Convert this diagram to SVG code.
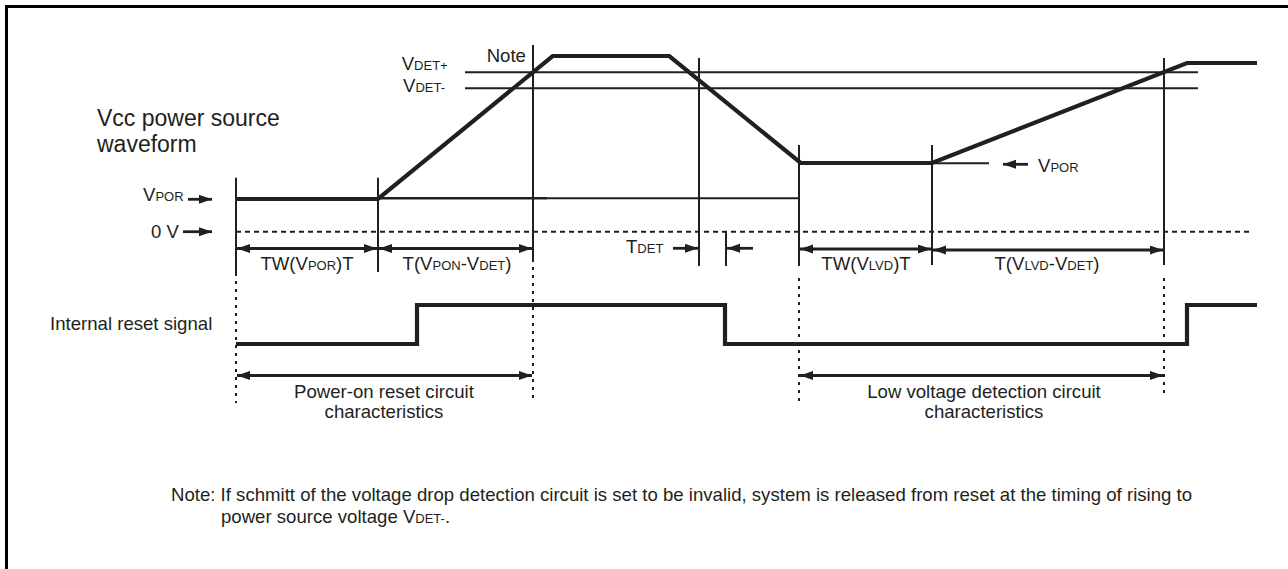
<svg xmlns="http://www.w3.org/2000/svg" width="1288" height="569" viewBox="0 0 1288 569">
<style>
.t{font-family:"Liberation Sans",Arial,Helvetica,sans-serif;font-size:18.6px;fill:#231f20}
.s{font-size:13px}
.big{font-size:23px}
.thin{stroke:#231f20;stroke-width:2;fill:none}
.thick{stroke:#231f20;stroke-width:4.2;fill:none;stroke-linejoin:miter}
.dim{stroke:#231f20;stroke-width:2.8;fill:none}
.dash{stroke:#231f20;stroke-width:2;fill:none;stroke-dasharray:5 4}
.dot{stroke:#231f20;stroke-width:2;fill:none;stroke-dasharray:3 5}
</style>
<defs>
<marker id="ah" markerUnits="userSpaceOnUse" markerWidth="14" markerHeight="10" refX="13" refY="4.5" orient="auto-start-reverse">
<path d="M0,0 L13,4.5 L0,9 z" fill="#231f20"/>
</marker>
</defs>
<rect width="1288" height="569" fill="#ffffff"/>
<path d="M6.5,569 V6.5 H1288" stroke="#000" stroke-width="3" fill="none"/>

<g id="title">
<text class="t big" x="97" y="126">Vcc power source</text>
<text class="t big" x="97" y="152">waveform</text>
</g>

<g id="reference-lines">
<line class="thin" x1="465" y1="72.3" x2="1198" y2="72.3"/>
<line class="thin" x1="465" y1="88.3" x2="1198" y2="88.3"/>
<line class="thin" x1="378" y1="198.3" x2="547" y2="198.3" style="stroke-width:2.6"/>
<line class="thin" x1="547" y1="198.3" x2="800" y2="198.3"/>
<line class="thin" x1="932" y1="163.3" x2="989" y2="163.3"/>
<line class="dash" x1="236" y1="231.7" x2="1253" y2="231.7"/>
</g>

<g id="verticals">
<line class="thin" x1="236" y1="177.7" x2="236" y2="276"/>
<line class="dot" x1="236" y1="281" x2="236" y2="403"/>
<line class="thin" x1="378" y1="177.7" x2="378" y2="272"/>
<line class="thin" x1="533" y1="45" x2="533" y2="262"/>
<line class="dot" x1="533" y1="267" x2="533" y2="403"/>
<line class="thin" x1="699" y1="58" x2="699" y2="266"/>
<line class="thin" x1="726" y1="231.7" x2="726" y2="266"/>
<line class="thin" x1="799" y1="145" x2="799" y2="266"/>
<line class="dot" x1="799" y1="278" x2="799" y2="405"/>
<line class="thin" x1="932" y1="145" x2="932" y2="265"/>
<line class="thin" x1="1164" y1="58" x2="1164" y2="265"/>
<line class="dot" x1="1164" y1="278" x2="1164" y2="395"/>
</g>

<g id="vcc-waveform">
<path class="thick" d="M236,199 H378 L552.7,56 H669.3 L800.7,163 H932 L1187,63 H1257"/>
</g>

<g id="reset-signal">
<path class="thick" d="M236,344 H417 V305 H725 V344 H1187 V305 H1257"/>
</g>

<g id="connectors">
<line class="dim" x1="188" y1="199.3" x2="212" y2="199.3" marker-end="url(#ah)"/>
<line class="dim" x1="183" y1="231.7" x2="212" y2="231.7" marker-end="url(#ah)"/>
<line class="dim" x1="1028" y1="164.3" x2="1003" y2="164.3" marker-end="url(#ah)"/>
<line class="dim" x1="237" y1="248.5" x2="377" y2="248.5" marker-start="url(#ah)" marker-end="url(#ah)"/>
<line class="dim" x1="379" y1="248.5" x2="532" y2="248.5" marker-start="url(#ah)" marker-end="url(#ah)"/>
<line class="dim" x1="673" y1="248.3" x2="698" y2="248.3" marker-end="url(#ah)"/>
<line class="dim" x1="753" y1="248.3" x2="727" y2="248.3" marker-end="url(#ah)"/>
<line class="dim" x1="800" y1="249" x2="931" y2="249" marker-start="url(#ah)" marker-end="url(#ah)"/>
<line class="dim" x1="933" y1="250" x2="1163" y2="250" marker-start="url(#ah)" marker-end="url(#ah)"/>
<line class="dim" x1="237" y1="375.5" x2="532" y2="375.5" marker-start="url(#ah)" marker-end="url(#ah)"/>
<line class="dim" x1="800" y1="375.5" x2="1163" y2="375.5" marker-start="url(#ah)" marker-end="url(#ah)"/>
</g>

<g id="labels">
<text class="t" x="143" y="201">V<tspan class="s">POR</tspan></text>
<text class="t" x="179" y="238" text-anchor="end">0 V</text>
<text class="t" x="486.7" y="62">Note</text>
<text class="t" x="401.7" y="70">V<tspan class="s">DET+</tspan></text>
<text class="t" x="403" y="92">V<tspan class="s">DET-</tspan></text>
<text class="t" x="1038" y="171.7">V<tspan class="s">POR</tspan></text>
<text class="t" x="307" y="270" text-anchor="middle">TW(V<tspan class="s">POR</tspan>)T</text>
<text class="t" x="457" y="270" text-anchor="middle">T(V<tspan class="s">PON</tspan>-V<tspan class="s">DET</tspan>)</text>
<text class="t" x="626" y="253">T<tspan class="s">DET</tspan></text>
<text class="t" x="866" y="270" text-anchor="middle">TW(V<tspan class="s">LVD</tspan>)T</text>
<text class="t" x="1047" y="270" text-anchor="middle">T(V<tspan class="s">LVD</tspan>-V<tspan class="s">DET</tspan>)</text>
<text class="t" x="50" y="330">Internal reset signal</text>
<text class="t" x="384" y="398" text-anchor="middle">Power-on reset circuit</text>
<text class="t" x="384" y="418" text-anchor="middle">characteristics</text>
<text class="t" x="984" y="398" text-anchor="middle">Low voltage detection circuit</text>
<text class="t" x="984" y="418" text-anchor="middle">characteristics</text>
</g>

<g id="note">
<text class="t" x="171" y="500.7">Note: If schmitt of the voltage drop detection circuit is set to be invalid, system is released from reset at the timing of rising to</text>
<text class="t" x="221" y="523">power source voltage V<tspan class="s">DET-</tspan>.</text>
</g>
</svg>
